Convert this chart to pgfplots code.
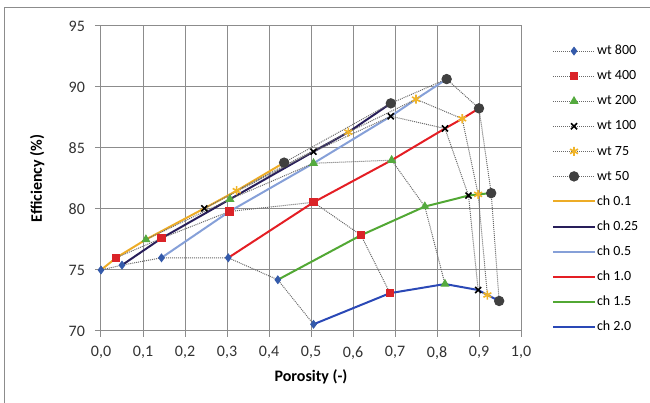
\documentclass[border=0pt]{standalone}
\usepackage{pgfplots}
\pgfplotsset{compat=1.18}
\usepackage{fontspec}
\setmainfont{Carlito}
\definecolor{cA}{RGB}{237,172,38}
\definecolor{cB}{RGB}{40,30,90}
\definecolor{cC}{RGB}{134,160,216}
\definecolor{cD}{RGB}{228,30,36}
\definecolor{cE}{RGB}{82,168,52}
\definecolor{cF}{RGB}{42,72,182}
\definecolor{m800}{RGB}{52,90,170}
\definecolor{m400}{RGB}{218,35,40}
\definecolor{m200}{RGB}{84,170,62}
\definecolor{m75}{RGB}{240,180,40}
\definecolor{m50}{RGB}{64,64,64}
\definecolor{gridc}{RGB}{140,140,140}
\definecolor{dotc}{RGB}{105,105,105}
\definecolor{txt}{RGB}{50,50,50}
\begin{document}
\begin{tikzpicture}
\begin{axis}[
  at={(0pt,0pt)}, anchor=south west,
  scale only axis, width=315pt, height=228.75pt,
  xmin=0, xmax=1, ymin=70, ymax=95,
  xtick={0,0.1,0.2,0.3,0.4,0.5,0.6,0.7,0.8,0.9,1.0},
  ytick={70,75,80,85,90,95},
  /pgf/number format/assume math mode=true,
  xticklabel style={/pgf/number format/.cd, fixed, fixed zerofill, precision=1, use comma, /tikz/.cd, yshift=-3.5pt},
  yticklabel style={/pgf/number format/.cd, fixed, precision=0, /tikz/.cd, xshift=-4pt},
  tick label style={font=\fontsize{12}{14}\selectfont, text=txt},
  grid=major,
  major grid style={gridc, line width=0.75pt},
  axis line style={gridc, line width=0.75pt},
  tick style={gridc, line width=0.75pt},
  tick align=outside, tick pos=left, major tick length=4.5pt,
  xlabel={\textbf{Porosity (-)}},
  ylabel={\textbf{Efficiency (\%)}},
  label style={font=\fontsize{12}{14}\selectfont, text=black},
  xlabel style={at={(axis description cs:0.5,-0.151)}, anchor=center},
  ylabel style={at={(axis description cs:-0.152,0.5)}, anchor=center, rotate=0},
  legend style={draw=none, fill=none, at={(1.074,0.946)}, anchor=north west,
    font=\fontsize{10.5}{12}\selectfont, inner sep=0pt, row sep=6.3pt,
    nodes={inner sep=1pt, text height=8pt, text depth=2.5pt}},
  legend cell align=left,
  legend image code/.code={\draw[mark repeat=2, mark phase=2, #1] plot coordinates {(0pt,0pt) (15.5pt,0pt) (31pt,0pt)};},
  wt/.style={dotc, line width=0.75pt, dash pattern=on 0.75pt off 0.75pt},
  ch/.style={line width=1.5pt, no marks},
]
% channel lines (drawn below markers)
\addplot[ch, cA, forget plot] coordinates {(0,75.0) (0.036,76.0) (0.107,77.5) (0.246,80.05) (0.323,81.5) (0.436,83.8)};
\addplot[ch, cB, forget plot] coordinates {(0.05,75.4) (0.144,77.6) (0.307,80.8) (0.506,84.7) (0.589,86.3) (0.69,88.66)};
\addplot[ch, cC, forget plot] coordinates {(0.144,76.0) (0.306,79.8) (0.506,83.75) (0.69,87.6) (0.75,89.0) (0.823,90.65)};
\addplot[ch, cD, forget plot] coordinates {(0.303,76.0) (0.506,80.55) (0.692,84.0) (0.819,86.6) (0.86,87.4) (0.9,88.25)};
\addplot[ch, cE, forget plot] coordinates {(0.421,74.2) (0.619,77.85) (0.771,80.2) (0.875,81.1) (0.898,81.2) (0.929,81.3)};
\addplot[ch, cF, forget plot] coordinates {(0.506,70.55) (0.688,73.1) (0.819,73.85) (0.898,73.36) (0.92,72.95) (0.948,72.46)};
% wt series
\addplot[wt, mark=diamond*, mark size=2.8pt, mark options={solid, fill=m800, draw=m800}] coordinates {(0,75.0) (0.05,75.4) (0.144,76.0) (0.303,76.0) (0.421,74.2) (0.506,70.55)};
\addlegendentry{wt 800}
\addplot[wt, mark=square*, mark size=2.7pt, mark options={solid, fill=m400, draw=m400}] coordinates {(0.036,76.0) (0.144,77.6) (0.306,79.8) (0.506,80.55) (0.619,77.85) (0.688,73.1)};
\addlegendentry{wt 400}
\addplot[wt, mark=triangle*, mark size=3.2pt, mark options={solid, fill=m200, draw=m200}] coordinates {(0.107,77.5) (0.307,80.8) (0.506,83.75) (0.692,84.0) (0.771,80.2) (0.819,73.85)};
\addlegendentry{wt 200}
\addplot[wt, mark=x, mark size=3.2pt, mark options={solid, draw=black, line width=1.2pt}] coordinates {(0.246,80.05) (0.506,84.7) (0.69,87.6) (0.819,86.6) (0.875,81.1) (0.898,73.36)};
\addlegendentry{wt 100}
\addplot[wt, mark=asterisk, mark size=3.4pt, mark options={solid, draw=m75, line width=1.2pt}] coordinates {(0.323,81.5) (0.589,86.3) (0.75,89.0) (0.86,87.4) (0.898,81.2) (0.92,72.95)};
\addlegendentry{wt 75}
\addplot[wt, mark=*, mark size=3.5pt, mark options={solid, fill=m50, draw=m50}] coordinates {(0.436,83.8) (0.69,88.66) (0.823,90.65) (0.9,88.25) (0.929,81.3) (0.948,72.46)};
\addlegendentry{wt 50}
\addlegendimage{ch, cA}\addlegendentry{ch 0.1}
\addlegendimage{ch, cB}\addlegendentry{ch 0.25}
\addlegendimage{ch, cC}\addlegendentry{ch 0.5}
\addlegendimage{ch, cD}\addlegendentry{ch 1.0}
\addlegendimage{ch, cE}\addlegendentry{ch 1.5}
\addlegendimage{ch, cF}\addlegendentry{ch 2.0}
\end{axis}
\draw[gridc, line width=0.75pt] (-72pt,-70pt) -- (-72pt,242.25pt) -- (430pt,242.25pt);
\pgfresetboundingbox
\path[use as bounding box] (-75.75pt,-54pt) rectangle (411.75pt,248.25pt);
\end{tikzpicture}
\end{document}
